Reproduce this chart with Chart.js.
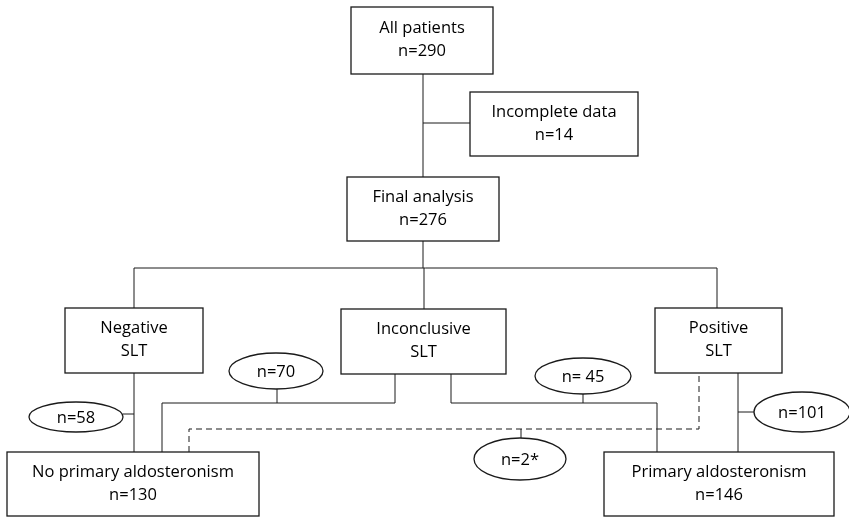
<!DOCTYPE html>
<html>
<head>
<meta charset="utf-8">
<script src="https://cdn.jsdelivr.net/npm/chart.js@4/dist/chart.umd.min.js"></script>
<style>
  body { margin: 0; background: #fff; }
  #wrap { width: 849px; height: 517px; }
</style>
</head>
<body>
<div id="wrap"><canvas id="flow" width="849" height="517"></canvas></div>
<script>
// Box texts (line 1 / line 2)
const boxTitles = ["All patients", "Incomplete data", "Final analysis", "Negative", "Inconclusive", "Positive", "No primary aldosteronism", "Primary aldosteronism"];
const boxSubs = ["n=290", "n=14", "n=276", "SLT", "SLT", "SLT", "n=130", "n=146"];

// Ellipse texts (patients per path)
const pathLabels = ["n=58", "n=70", "n= 45", "n=2*", "n=101"];

// Layout in axis units (x: 0..849, y: 0..517 top-down)
const boxLeft   = [351, 470, 347,  65, 341, 655,   7, 604];
const boxTop    = [  7,  92, 177, 308, 309, 308, 452, 452];
const boxRight  = [493, 638, 499, 203, 506, 782, 259, 834];
const boxBottom = [ 74, 156, 241, 373, 374, 373, 516, 516];

const ellX  = [ 76, 276, 583, 520, 802];
const ellY  = [417, 371, 376, 459, 412];
const ellRx = [ 47,  47,  48,  46,  48];
const ellRy = [ 15,  18,  18,  21,  20];

// connector polylines [x,y,x,y,...]
const solidLines = [
  [423, 74, 423, 177],
  [423, 123, 470, 123],
  [423, 241, 423, 268],
  [134, 268, 717, 268],
  [134, 268, 134, 308],
  [424, 268, 424, 309],
  [717, 268, 717, 308],
  [134, 373, 134, 452],
  [123, 414, 134, 414],
  [395, 374, 395, 403, 162, 403, 162, 452],
  [277, 389, 277, 403],
  [451, 374, 451, 403, 657, 403, 657, 452],
  [583, 394, 583, 403],
  [738, 373, 738, 452],
  [738, 412, 754, 412],
  [521, 429, 521, 438]
];
const dashedLines = [
  [189, 452, 189, 429, 699, 429, 699, 373]
];

const FONT = '16.5px "Open Sans", "DejaVu Sans", sans-serif';

const flowPlugin = {
  id: "flow",
  afterDraw(chart) {
    const ctx = chart.ctx;
    const sx = chart.scales.x, sy = chart.scales.y;
    const px = v => sx.getPixelForValue(v);
    const py = v => sy.getPixelForValue(v);

    ctx.save();
    ctx.strokeStyle = "#1a1a1a";
    ctx.fillStyle = "#000";
    ctx.font = FONT;
    ctx.textAlign = "center";
    ctx.textBaseline = "middle";

    // connectors
    ctx.lineWidth = 1;
    const poly = (pts) => {
      ctx.beginPath();
      ctx.moveTo(px(pts[0]), py(pts[1]));
      for (let i = 2; i < pts.length; i += 2) ctx.lineTo(px(pts[i]), py(pts[i + 1]));
      ctx.stroke();
    };
    solidLines.forEach(poly);
    ctx.setLineDash([6, 4]);
    dashedLines.forEach(poly);
    ctx.setLineDash([]);

    // boxes
    ctx.lineWidth = 1.3;
    boxTitles.forEach((t, i) => {
      const x1 = px(boxLeft[i]), x2 = px(boxRight[i]);
      const y1 = py(boxTop[i]), y2 = py(boxBottom[i]);
      ctx.fillStyle = "#fff";
      ctx.fillRect(x1, y1, x2 - x1, y2 - y1);
      ctx.strokeRect(x1, y1, x2 - x1, y2 - y1);
      ctx.fillStyle = "#000";
      const cx = (x1 + x2) / 2, cy = (y1 + y2) / 2;
      ctx.fillText(t, cx, cy - 12);
      ctx.fillText(boxSubs[i], cx, cy + 11);
    });

    // ellipses
    pathLabels.forEach((t, i) => {
      const cx = px(ellX[i]), cy = py(ellY[i]);
      const rx = Math.abs(px(ellX[i] + ellRx[i]) - cx);
      const ry = Math.abs(py(ellY[i] + ellRy[i]) - cy);
      ctx.beginPath();
      ctx.ellipse(cx, cy, rx, ry, 0, 0, Math.PI * 2);
      ctx.fillStyle = "#fff";
      ctx.fill();
      ctx.stroke();
      ctx.fillStyle = "#000";
      ctx.fillText(t, cx, cy + 1);
    });
    ctx.restore();
  }
};

new Chart(document.getElementById("flow"), {
  type: "scatter",
  data: { datasets: [{ data: [], pointRadius: 0 }] },
  options: {
    responsive: false,
    animation: false,
    layout: { padding: 0 },
    plugins: { legend: { display: false }, tooltip: { enabled: false } },
    scales: {
      x: { type: "linear", min: 0, max: 849, display: false },
      y: { type: "linear", min: 0, max: 517, reverse: true, display: false }
    }
  },
  plugins: [flowPlugin]
});
</script>
</body>
</html>
